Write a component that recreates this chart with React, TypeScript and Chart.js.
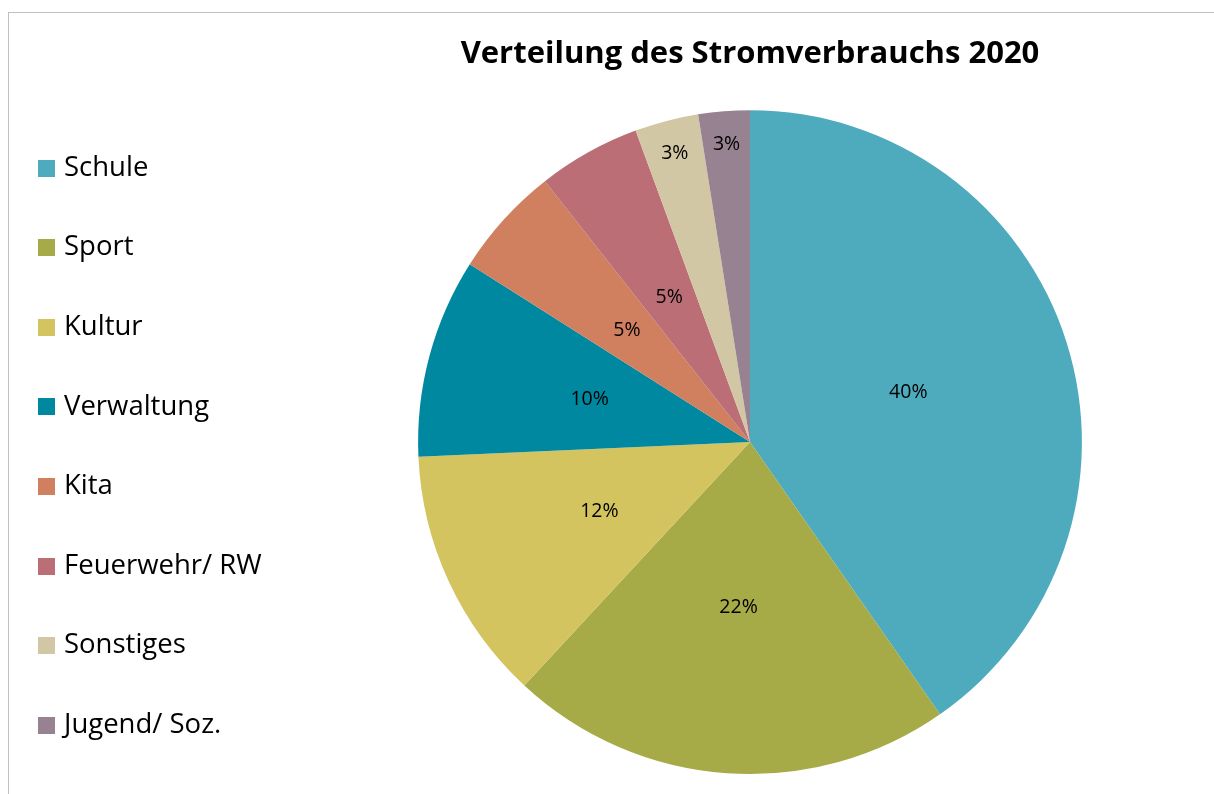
import React, { useEffect, useRef } from "react";
import { Chart, registerables } from "chart.js";

Chart.register(...registerables);

const categories = [
  "Schule",
  "Sport",
  "Kultur",
  "Verwaltung",
  "Kita",
  "Feuerwehr/ RW",
  "Sonstiges",
  "Jugend/ Soz.",
];
const shares = [40.3, 21.6, 12.4, 9.7, 5.4, 5.0, 3.1, 2.5];
const sliceColors = [
  "#4EABBE",
  "#A6AA47",
  "#D3C45F",
  "#0088A0",
  "#D07F5F",
  "#BC6E77",
  "#D2C7A5",
  "#978291",
];
const chartTitle = "Verteilung des Stromverbrauchs 2020";

const FONT = "'Open Sans', Lato, sans-serif";

const sliceLabelPlugin = {
  id: "sliceLabels",
  afterDatasetsDraw(chart: any) {
    const meta = chart.getDatasetMeta(0);
    const data = chart.data.datasets[0].data as number[];
    const total = data.reduce((a, b) => a + b, 0);
    const ctx = chart.ctx;
    ctx.save();
    ctx.font = `19.5px ${FONT}`;
    ctx.fillStyle = "#000";
    ctx.textAlign = "center";
    ctx.textBaseline = "middle";
    meta.data.forEach((arc: any, i: number) => {
      const p = arc.getProps(["x", "y", "startAngle", "endAngle", "outerRadius"], true);
      const mid = (p.startAngle + p.endAngle) / 2;
      const pct = (data[i] / total) * 100;
      const r = pct < 4 ? p.outerRadius * 0.9 : p.outerRadius * 0.5;
      ctx.fillText(Math.round(pct) + "%", p.x + Math.cos(mid) * r, p.y + Math.sin(mid) * r);
    });
    ctx.restore();
  },
};

const sideLegendPlugin = {
  id: "sideLegend",
  afterDraw(chart: any) {
    const ctx = chart.ctx;
    const labels = chart.data.labels as string[];
    const bg = chart.data.datasets[0].backgroundColor as string[];
    const x0 = 38;
    const y0 = 168;
    const step = 79.6;
    const box = 17;
    ctx.save();
    ctx.font = `27.5px ${FONT}`;
    ctx.textAlign = "left";
    ctx.textBaseline = "middle";
    labels.forEach((lab, i) => {
      const cy = y0 + i * step;
      ctx.fillStyle = bg[i];
      ctx.fillRect(x0, Math.round(cy - box / 2), box, box);
      ctx.fillStyle = "#000";
      ctx.fillText(lab, x0 + box + 9, cy);
    });
    ctx.restore();
  },
};

export default function App() {
  const canvasRef = useRef<HTMLCanvasElement | null>(null);

  useEffect(() => {
    let chart: Chart | null = null;
    let cancelled = false;
    const make = () => {
      if (cancelled || !canvasRef.current) return;
      chart = new Chart(canvasRef.current, {
        type: "pie",
        data: {
          labels: categories,
          datasets: [
            {
              data: shares,
              backgroundColor: sliceColors,
              borderWidth: 0,
            },
          ],
        },
        options: {
          responsive: false,
          animation: false,
          devicePixelRatio: 1,
          layout: { padding: { left: 296, right: 10, top: 0, bottom: 20 } },
          plugins: {
            legend: { display: false },
            tooltip: { enabled: false },
            title: {
              display: true,
              text: chartTitle,
              fullSize: false,
              color: "#000",
              font: { family: FONT, size: 31, weight: "bold", lineHeight: 1.2 },
              padding: { top: 36, bottom: 37 },
            },
          },
        },
        plugins: [sliceLabelPlugin, sideLegendPlugin],
      });
    };
    const fonts = (document as any).fonts;
    if (fonts && fonts.load) {
      Promise.all([fonts.load(`18px 'Open Sans'`), fonts.load(`bold 31px 'Open Sans'`)])
        .catch(() => {})
        .then(make);
    } else {
      make();
    }
    return () => {
      cancelled = true;
      if (chart) chart.destroy();
    };
  }, []);

  return (
    <div style={{ position: "fixed", left: 0, top: 0, width: 1214, height: 794, background: "#fff" }}>
      <div
        style={{
          position: "absolute",
          left: 8,
          top: 12,
          right: 0,
          bottom: 0,
          borderLeft: "1px solid #c0c0c0",
          borderTop: "1px solid #c0c0c0",
        }}
      />
      <canvas
        ref={canvasRef}
        width={1214}
        height={794}
        style={{ position: "absolute", left: 0, top: 0, width: 1214, height: 794 }}
      />
    </div>
  );
}
